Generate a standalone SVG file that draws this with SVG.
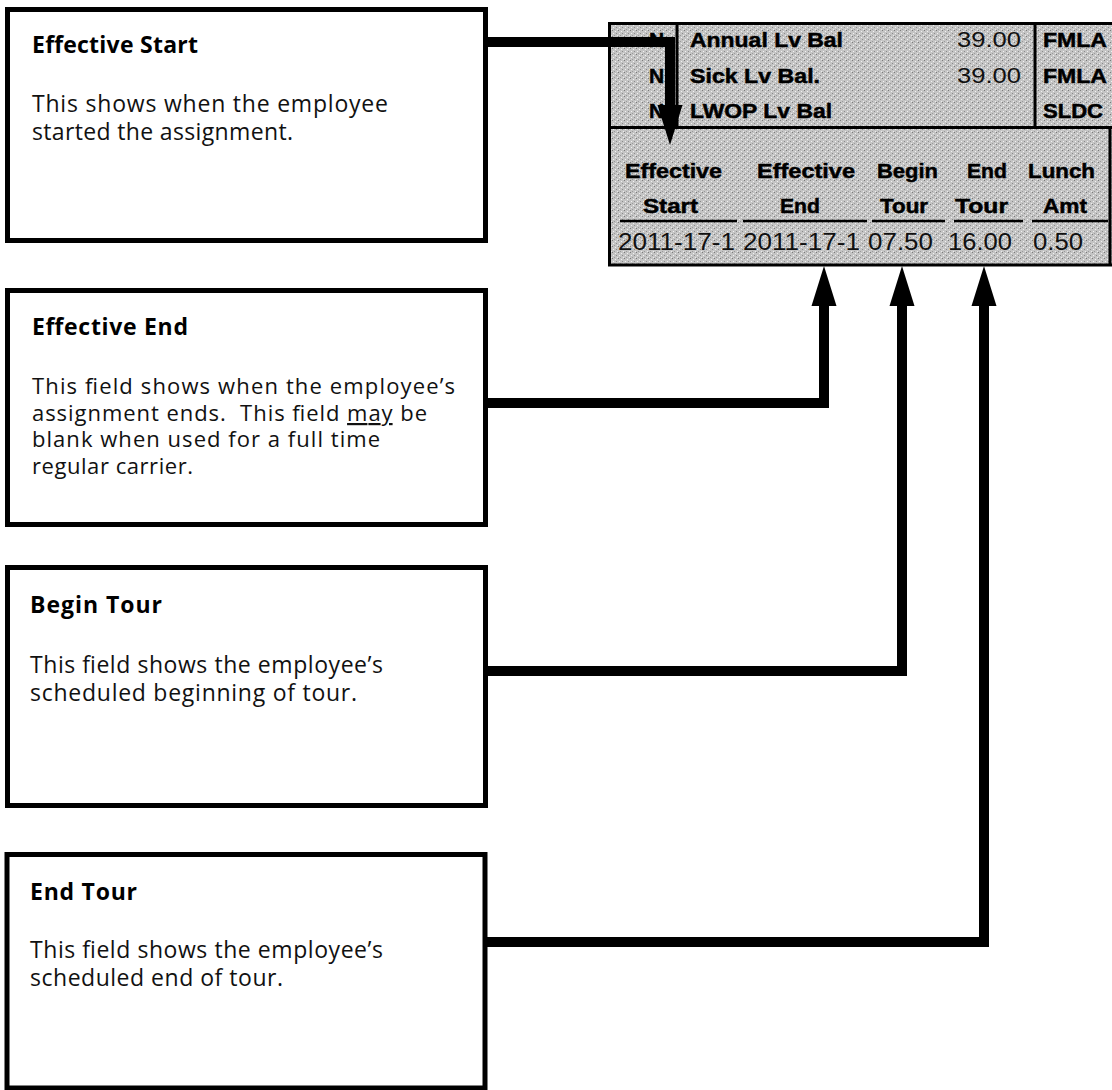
<svg xmlns="http://www.w3.org/2000/svg" width="1112" height="1090" viewBox="0 0 1112 1090">
  <style>
    .box { fill: #ffffff; stroke: #000000; stroke-width: 5; }
    .ttl { font-family: "Open Sans", "Noto Sans", "DejaVu Sans", sans-serif; font-weight: bold; font-size: 23px; fill: #000; }
    .txt { font-family: "Open Sans", "Noto Sans", "DejaVu Sans", sans-serif; font-size: 23px; fill: #111; }
    .txt.tight { font-size: 22px; }
    .lbl { font-family: "Liberation Sans", Arial, sans-serif; font-weight: bold; font-size: 21px; fill: #000; stroke: #000; stroke-width: 0.5; }
    .val { font-family: "Liberation Sans", Arial, sans-serif; font-size: 22px; fill: #111; }
    .dat { font-family: "Liberation Sans", Arial, sans-serif; font-size: 23px; fill: #111; }
    .rule { stroke: #000; stroke-width: 3; fill: none; }
    .uline { stroke: #000; stroke-width: 2.5; }
    .conn { fill: none; stroke: #000; stroke-width: 10; stroke-linejoin: miter; stroke-linecap: butt; }
  </style>
  <defs>
    <!-- grainy screen-print grey for the form excerpt -->
    <pattern id="dither" width="6" height="6" patternUnits="userSpaceOnUse">
      <rect width="6" height="6" fill="#c4c4c4"/>
      <rect x="0" y="0" width="1" height="1" fill="#7a7a7a"/>
      <rect x="3" y="1" width="1" height="1" fill="#f2f2f2"/>
      <rect x="1" y="3" width="1" height="1" fill="#f2f2f2"/>
      <rect x="4" y="3" width="1" height="1" fill="#8a8a8a"/>
      <rect x="2" y="5" width="1" height="1" fill="#9a9a9a"/>
      <rect x="5" y="5" width="1" height="1" fill="#ececec"/>
    </pattern>
    <marker id="head" markerUnits="userSpaceOnUse" markerWidth="40" markerHeight="26"
            viewBox="0 -13 40 26" refX="0" refY="0" orient="auto">
      <path d="M0,-12.5 L40,0 L0,12.5 Z" fill="#000"/>
    </marker>
  </defs>

  <!-- form excerpt: leave balances and assignment row -->
  <g id="form">
    <rect x="608" y="22" width="504" height="244" fill="url(#dither)"/>
    <line class="rule" x1="608" y1="23.5" x2="1112" y2="23.5"/>
    <line class="rule" x1="609.5" y1="22" x2="609.5" y2="266"/>
    <line class="rule" x1="608" y1="127.5" x2="1112" y2="127.5"/>
    <line class="rule" x1="608" y1="265" x2="1112" y2="265"/>
    <line class="rule" x1="677" y1="22" x2="677" y2="128"/>
    <line class="rule" x1="1035" y1="22" x2="1035" y2="128"/>
    <line class="rule" x1="1110" y1="128" x2="1110" y2="266"/>

    <text class="lbl" x="649" y="47">N</text>
    <text class="lbl" x="649" y="83">N</text>
    <text class="lbl" x="649" y="118">N</text>
    <text class="lbl" x="690" y="47" textLength="153" lengthAdjust="spacingAndGlyphs">Annual Lv Bal</text>
    <text class="lbl" x="690" y="83" textLength="130" lengthAdjust="spacingAndGlyphs">Sick Lv Bal.</text>
    <text class="lbl" x="690" y="118" textLength="142" lengthAdjust="spacingAndGlyphs">LWOP Lv Bal</text>
    <text class="val" x="957" y="47" textLength="64" lengthAdjust="spacingAndGlyphs">39.00</text>
    <text class="val" x="957" y="83" textLength="64" lengthAdjust="spacingAndGlyphs">39.00</text>
    <text class="lbl" x="1043" y="47" textLength="64" lengthAdjust="spacingAndGlyphs">FMLA</text>
    <text class="lbl" x="1043" y="83" textLength="64" lengthAdjust="spacingAndGlyphs">FMLA</text>
    <text class="lbl" x="1043" y="118" textLength="60" lengthAdjust="spacingAndGlyphs">SLDC</text>

    <text class="lbl" x="625" y="178" textLength="97" lengthAdjust="spacingAndGlyphs">Effective</text>
    <text class="lbl" x="643" y="213" textLength="55" lengthAdjust="spacingAndGlyphs">Start</text>
    <text class="lbl" x="757" y="178" textLength="98" lengthAdjust="spacingAndGlyphs">Effective</text>
    <text class="lbl" x="780" y="213" textLength="40" lengthAdjust="spacingAndGlyphs">End</text>
    <text class="lbl" x="877" y="178" textLength="61" lengthAdjust="spacingAndGlyphs">Begin</text>
    <text class="lbl" x="880" y="213" textLength="48" lengthAdjust="spacingAndGlyphs">Tour</text>
    <text class="lbl" x="967" y="178" textLength="40" lengthAdjust="spacingAndGlyphs">End</text>
    <text class="lbl" x="955" y="213" textLength="53" lengthAdjust="spacingAndGlyphs">Tour</text>
    <text class="lbl" x="1028" y="178" textLength="67" lengthAdjust="spacingAndGlyphs">Lunch</text>
    <text class="lbl" x="1043" y="213" textLength="44" lengthAdjust="spacingAndGlyphs">Amt</text>

    <line class="uline" x1="620" y1="221" x2="737" y2="221"/>
    <line class="uline" x1="743" y1="221" x2="867" y2="221"/>
    <line class="uline" x1="872" y1="221" x2="945" y2="221"/>
    <line class="uline" x1="954" y1="221" x2="1023" y2="221"/>
    <line class="uline" x1="1032" y1="221" x2="1108" y2="221"/>

    <text class="dat" x="618" y="250" textLength="117" lengthAdjust="spacingAndGlyphs">2011-17-1</text>
    <text class="dat" x="743" y="250" textLength="117" lengthAdjust="spacingAndGlyphs">2011-17-1</text>
    <text class="dat" x="868" y="250" textLength="65" lengthAdjust="spacingAndGlyphs">07.50</text>
    <text class="dat" x="948" y="250" textLength="64" lengthAdjust="spacingAndGlyphs">16.00</text>
    <text class="dat" x="1033" y="250" textLength="50" lengthAdjust="spacingAndGlyphs">0.50</text>
  </g>

  <!-- explanation boxes -->
  <g id="effective-start">
    <rect class="box" x="7.5" y="9.5" width="478" height="231"/>
    <text class="ttl" x="32" y="53" textLength="166">Effective Start</text>
    <text class="txt" x="32" y="112" textLength="356">This shows when the employee</text>
    <text class="txt" x="32" y="140" textLength="261">started the assignment.</text>
  </g>

  <g id="effective-end">
    <rect class="box" x="7.5" y="290.5" width="478" height="234"/>
    <text class="ttl" x="32" y="335" textLength="156">Effective End</text>
    <text class="txt tight" x="32" y="394" textLength="423">This field shows when the employee’s</text>
    <text class="txt tight" x="32" y="421" textLength="395" style="white-space:pre">assignment ends.  This field <tspan text-decoration="underline">may</tspan> be</text>
    <text class="txt tight" x="32" y="447" textLength="348">blank when used for a full time</text>
    <text class="txt tight" x="32" y="474" textLength="161">regular carrier.</text>
  </g>

  <g id="begin-tour">
    <rect class="box" x="7.5" y="567.5" width="478" height="238"/>
    <text class="ttl" x="30" y="613" textLength="132">Begin Tour</text>
    <text class="txt" x="30" y="673" textLength="353">This field shows the employee’s</text>
    <text class="txt" x="30" y="701" textLength="327">scheduled beginning of tour.</text>
  </g>

  <g id="end-tour">
    <rect class="box" x="7" y="854.5" width="478" height="233.5"/>
    <text class="ttl" x="30" y="900" textLength="107">End Tour</text>
    <text class="txt" x="30" y="958" textLength="353">This field shows the employee’s</text>
    <text class="txt" x="30" y="986" textLength="253">scheduled end of tour.</text>
  </g>

  <!-- connectors from each box to its column -->
  <g id="connectors">
    <polyline class="conn" points="486,42 670,42 670,105" marker-end="url(#head)"/>
    <polyline class="conn" points="486,403 824,403 824,306" marker-end="url(#head)"/>
    <polyline class="conn" points="486,671 902,671 902,306" marker-end="url(#head)"/>
    <polyline class="conn" points="486,942 984,942 984,306" marker-end="url(#head)"/>
  </g>
</svg>
